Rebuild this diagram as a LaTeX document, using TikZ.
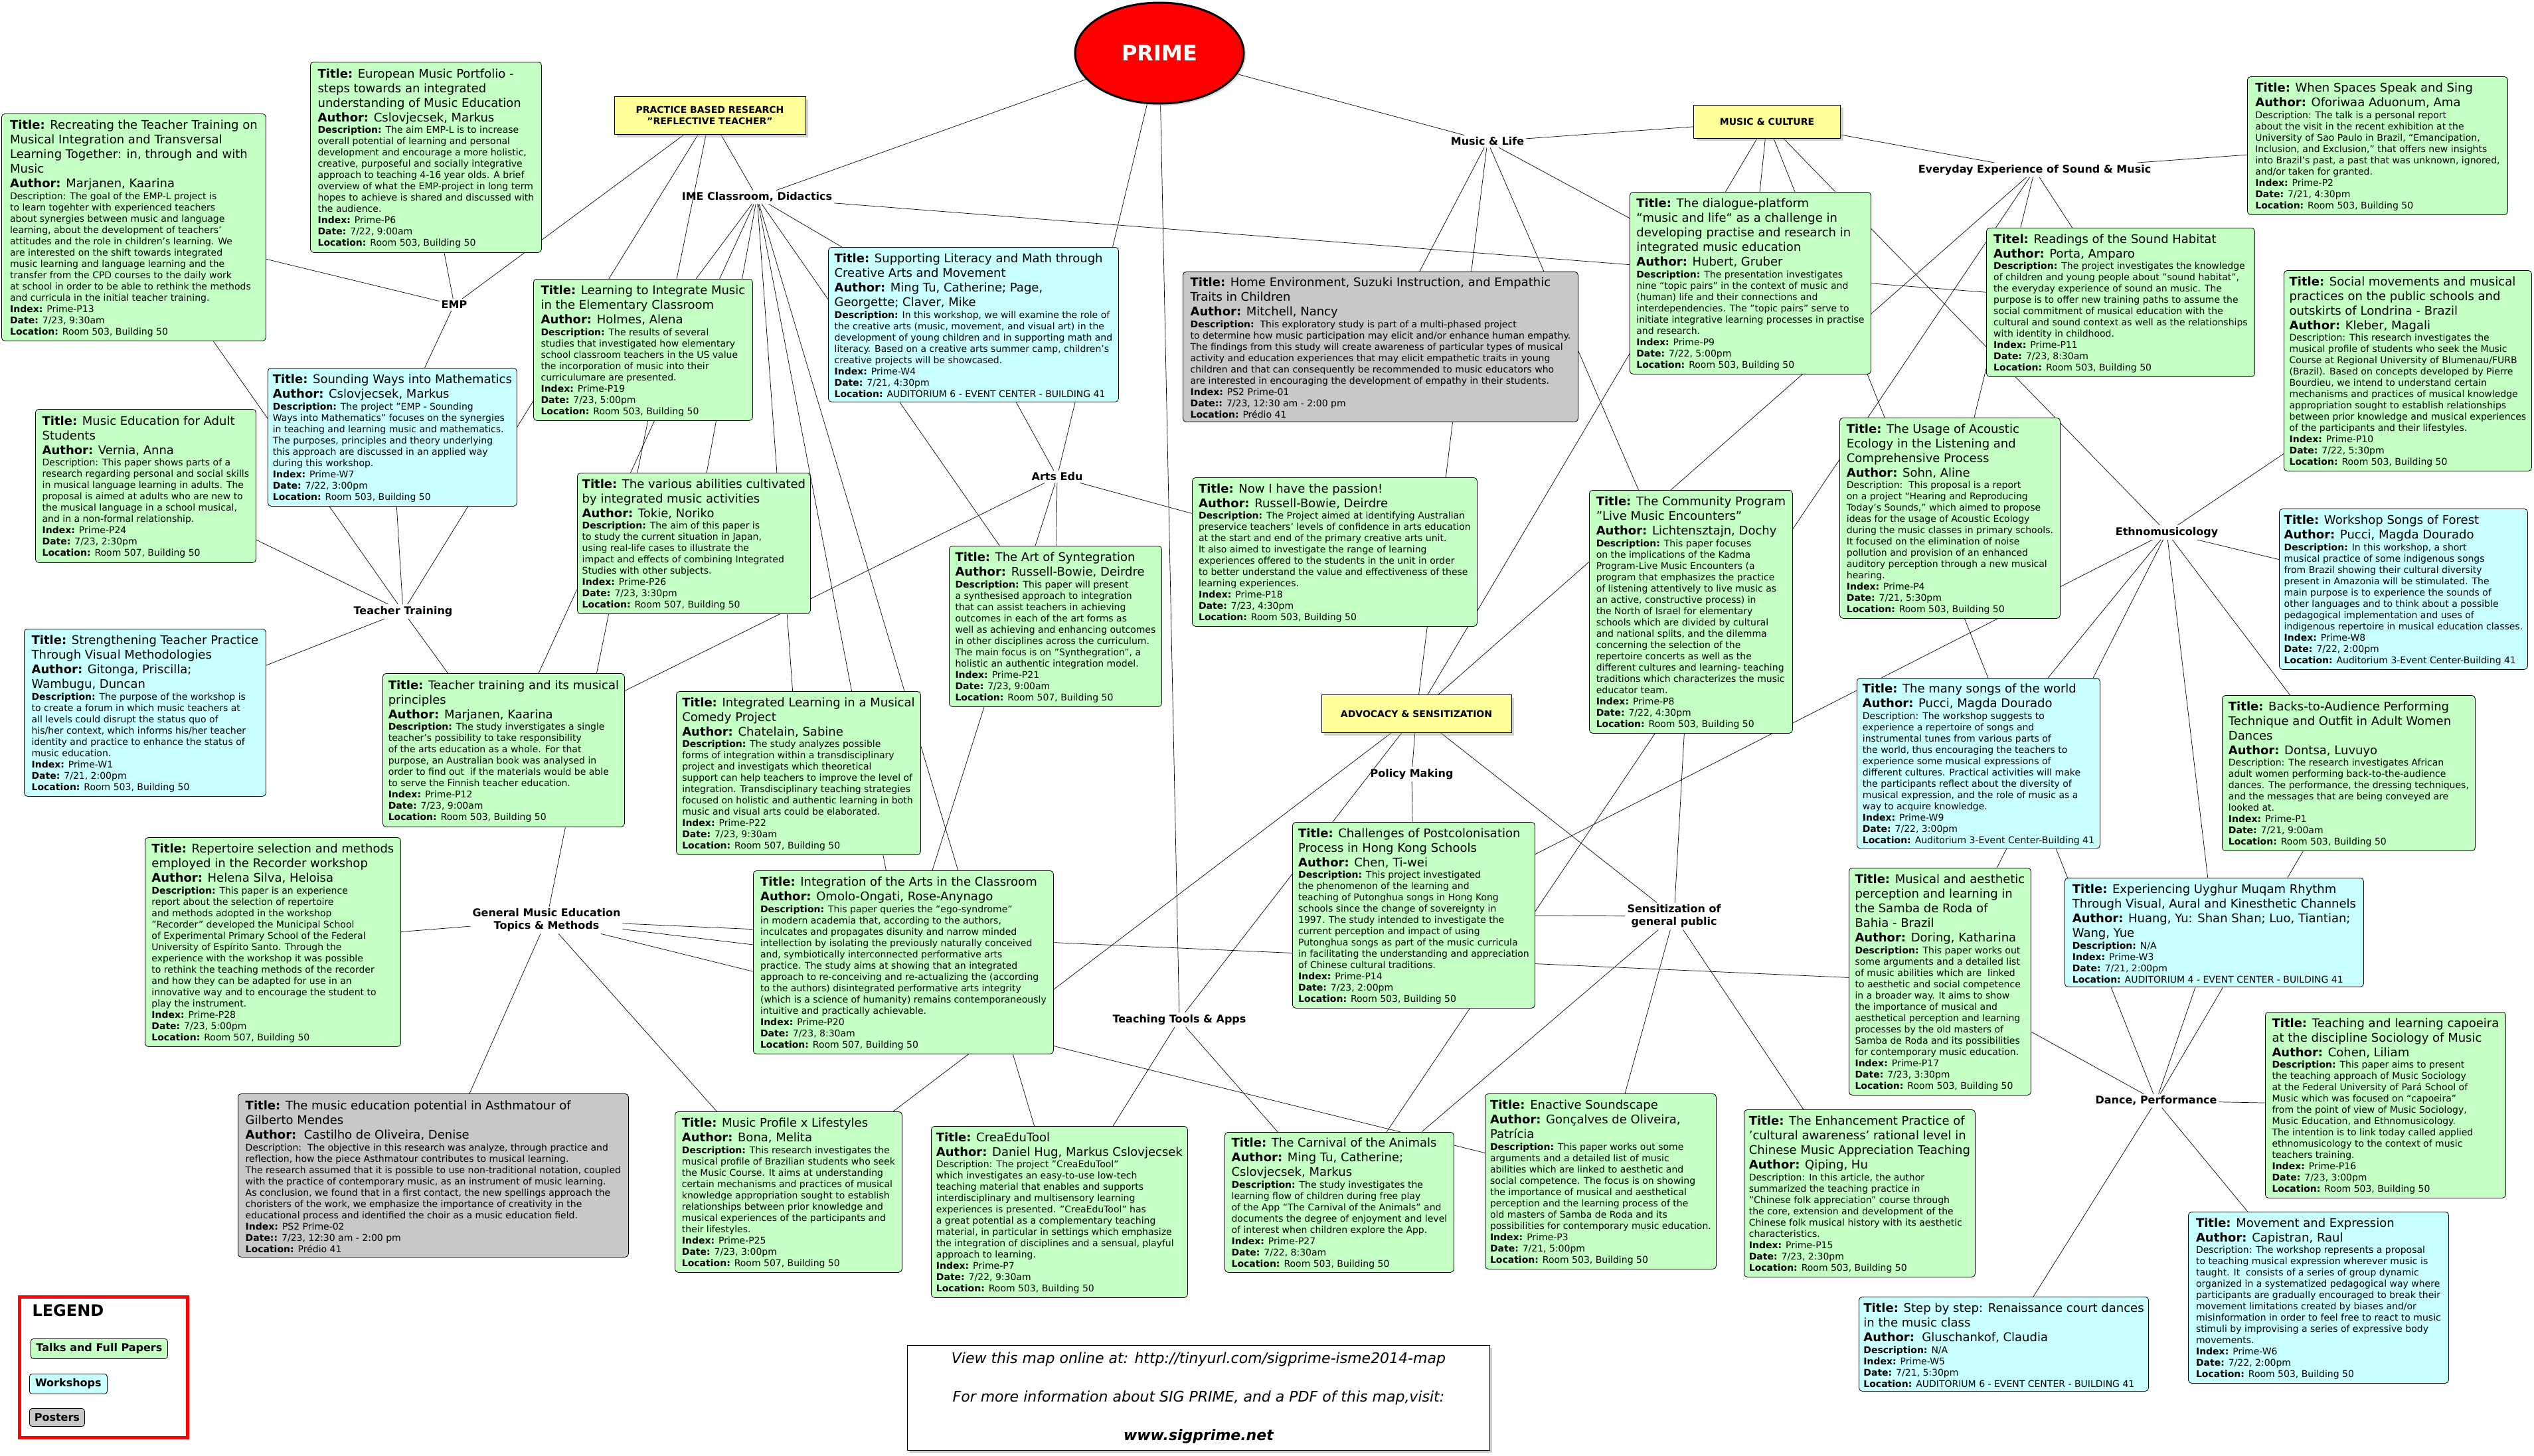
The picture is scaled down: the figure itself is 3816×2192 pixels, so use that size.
\documentclass[tikz,border=0pt]{standalone}
\usepackage{fontspec}
\setmainfont{DejaVu Sans}
\usetikzlibrary{positioning,shapes.geometric,shadows,backgrounds}

\definecolor{talkgreen}{RGB}{196,255,196}
\definecolor{wscyan}{RGB}{200,255,255}
\definecolor{postgray}{RGB}{200,200,200}
\definecolor{catyellow}{RGB}{255,255,153}

\newcommand\bodyfont{\fontsize{14}{17}\selectfont\lineskip=0pt\lineskiplimit=0pt}
\newcommand\topicfont{\fontsize{16}{19}\selectfont\bfseries}
\newcommand\catfont{\fontsize{14}{17}\selectfont\bfseries}
% title and author lines of a box
\newcommand\tline{\fontsize{18}{22}\selectfont\rule[-5pt]{0pt}{22pt}}
\newcommand\aline{\fontsize{18}{22}\selectfont\rule[-7pt]{0pt}{24pt}}

\begin{document}
\begin{tikzpicture}[
  x=1pt, y=-1pt,
  sz/.style 2 args={minimum width=#1pt, minimum height=#2pt},
  paper/.style={draw, line width=0.8pt, rounded corners=5pt, anchor=north west,
    align=left, inner xsep=7pt, inner ysep=5pt, font=\bodyfont},
  talk/.style={paper, fill=talkgreen},
  wshop/.style={paper, fill=wscyan},
  poster/.style={paper, fill=postgray},
  topic/.style={font=\topicfont, align=center, inner sep=3pt},
  cat/.style={draw, line width=0.8pt, fill=catyellow, font=\catfont, align=center,
    drop shadow={shadow xshift=4pt, shadow yshift=-4pt, fill=black!35}},
  key/.style={draw, line width=0.8pt, rounded corners=4pt, anchor=north west,
    font=\topicfont, inner xsep=6pt},
  link/.style={line width=0.7pt},
]
  \useasboundingbox (0,0) rectangle (3816,2192);

  % Root and categories
  \node[ellipse, draw, line width=3pt, fill=red, text=white, sz={254}{152},
    font=\fontsize{32}{38}\selectfont\bfseries,
    drop shadow={shadow xshift=3pt, shadow yshift=-3pt, fill=black!30}] (prime) at (1746,80) {PRIME};
  \node[cat, sz={288}{57}] (prac) at (1069,174) {PRACTICE BASED RESEARCH\\"REFLECTIVE TEACHER"};
  \node[cat, sz={221}{50}] (cult) at (2661,183) {MUSIC \& CULTURE};
  \node[cat, sz={286}{57}] (advo) at (2133,1075) {ADVOCACY \& SENSITIZATION};

  % Topics
  \node[topic] (ime) at (1140,297) {IME Classroom, Didactics};
  \node[topic] (emp) at (684,459) {EMP};
  \node[topic] (tt) at (607,921) {Teacher Training};
  \node[topic] (gme) at (823,1386) {General Music Education\\Topics \& Methods};
  \node[topic] (artsedu) at (1592,718) {Arts Edu};
  \node[topic] (life) at (2240,213) {Music \& Life};
  \node[topic] (everyday) at (3064,256) {Everyday Experience of Sound \& Music};
  \node[topic] (ethno) at (3263,802) {Ethnomusicology};
  \node[topic] (policy) at (2126,1166) {Policy Making};
  \node[topic] (sens) at (2521,1380) {Sensitization of\\general public};
  \node[topic] (tools) at (1776,1536) {Teaching Tools \& Apps};
  \node[topic] (dance) at (3247,1658) {Dance, Performance};

  % Talks, workshops and posters
  \node[talk, sz={398}{342}] (p13) at (2,171) {
    {\tline\textbf{Title:} Recreating the Teacher Training on}\\
    {\tline Musical Integration and Transversal}\\
    {\tline Learning Together: in, through and with}\\
    {\tline Music}\\
    {\aline\textbf{Author:} Marjanen, Kaarina}\\
    Description: The goal of the EMP-L project is\\
    to learn togehter with experienced teachers\\
    about synergies between music and language\\
    learning, about the development of teachers'\\
    attitudes and the role in children's learning. We\\
    are interested on the shift towards integrated\\
    music learning and language learning and the\\
    transfer from the CPD courses to the daily work\\
    at school in order to be able to rethink the methods\\
    and curricula in the initial teacher training.\\
    \textbf{Index:} Prime-P13\\
    \textbf{Date:} 7/23, 9:30am\\
    \textbf{Location:} Room 503, Building 50};

  \node[talk, sz={348}{287}] (p6) at (467,93) {
    {\tline\textbf{Title:} European Music Portfolio -}\\
    {\tline steps towards an integrated}\\
    {\tline understanding of Music Education}\\
    {\aline\textbf{Author:} Cslovjecsek, Markus}\\
    \textbf{Description:} The aim EMP-L is to increase\\
    overall potential of learning and personal\\
    development and encourage a more holistic,\\
    creative, purposeful and socially integrative\\
    approach to teaching 4-16 year olds. A brief\\
    overview of what the EMP-project in long term\\
    hopes to achieve is shared and discussed with\\
    the audience.\\
    \textbf{Index:} Prime-P6\\
    \textbf{Date:} 7/22, 9:00am\\
    \textbf{Location:} Room 503, Building 50};

  \node[wshop, sz={375}{208}] (w7) at (403,554) {
    {\tline\textbf{Title:} Sounding Ways into Mathematics}\\
    {\aline\textbf{Author:} Cslovjecsek, Markus}\\
    \textbf{Description:} The project "EMP - Sounding\\
    Ways into Mathematics" focuses on the synergies\\
    in teaching and learning music and mathematics.\\
    The purposes, principles and theory underlying\\
    this approach are discussed in an applied way\\
    during this workshop.\\
    \textbf{Index:} Prime-W7\\
    \textbf{Date:} 7/22, 3:00pm\\
    \textbf{Location:} Room 503, Building 50};

  \node[talk, sz={330}{213}] (p19) at (803,420) {
    {\tline\textbf{Title:} Learning to Integrate Music}\\
    {\tline in the Elementary Classroom}\\
    {\aline\textbf{Author:} Holmes, Alena}\\
    \textbf{Description:} The results of several\\
    studies that investigated how elementary\\
    school classroom teachers in the US value\\
    the incorporation of music into their\\
    curriculumare are presented.\\
    \textbf{Index:} Prime-P19\\
    \textbf{Date:} 7/23, 5:00pm\\
    \textbf{Location:} Room 503, Building 50};

  \node[talk, sz={332}{231}] (p24) at (53,616) {
    {\tline\textbf{Title:} Music Education for Adult}\\
    {\tline Students}\\
    {\aline\textbf{Author:} Vernia, Anna}\\
    Description: This paper shows parts of a\\
    research regarding personal and social skills\\
    in musical language learning in adults. The\\
    proposal is aimed at adults who are new to\\
    the musical language in a school musical,\\
    and in a non-formal relationship.\\
    \textbf{Index:} Prime-P24\\
    \textbf{Date:} 7/23, 2:30pm\\
    \textbf{Location:} Room 507, Building 50};

  \node[wshop, sz={364}{252}] (w1) at (36,947) {
    {\tline\textbf{Title:} Strengthening Teacher Practice}\\
    {\tline Through Visual Methodologies}\\
    {\tline\textbf{Author:} Gitonga, Priscilla;}\\
    {\aline Wambugu, Duncan}\\
    \textbf{Description:} The purpose of the workshop is\\
    to create a forum in which music teachers at\\
    all levels could disrupt the status quo of\\
    his/her context, which informs his/her teacher\\
    identity and practice to enhance the status of\\
    music education.\\
    \textbf{Index:} Prime-W1\\
    \textbf{Date:} 7/21, 2:00pm\\
    \textbf{Location:} Room 503, Building 50};

  \node[talk, sz={364}{231}] (p12) at (576,1014) {
    {\tline\textbf{Title:} Teacher training and its musical}\\
    {\tline principles}\\
    {\aline\textbf{Author:} Marjanen, Kaarina}\\
    \textbf{Description:} The study inverstigates a single\\
    teacher's possibility to take responsibility\\
    of the arts education as a whole. For that\\
    purpose, an Australian book was analysed in\\
    order to find out\ \ if the materials would be able\\
    to serve the Finnish teacher education.\\
    \textbf{Index:} Prime-P12\\
    \textbf{Date:} 7/23, 9:00am\\
    \textbf{Location:} Room 503, Building 50};

  \node[talk, sz={385}{315}] (p28) at (218,1261) {
    {\tline\textbf{Title:} Repertoire selection and methods}\\
    {\tline employed in the Recorder workshop}\\
    {\aline\textbf{Author:} Helena Silva, Heloisa}\\
    \textbf{Description:} This paper is an experience\\
    report about the selection of repertoire\\
    and methods adopted in the workshop\\
    "Recorder" developed the Municipal School\\
    of Experimental Primary School of the Federal\\
    University of Espírito Santo. Through the\\
    experience with the workshop it was possible\\
    to rethink the teaching methods of the recorder\\
    and how they can be adapted for use in an\\
    innovative way and to encourage the student to\\
    play the instrument.\\
    \textbf{Index:} Prime-P28\\
    \textbf{Date:} 7/23, 5:00pm\\
    \textbf{Location:} Room 507, Building 50};

  \node[poster, sz={588}{246}] (ps02) at (358,1647) {
    {\tline\textbf{Title:} The music education potential in Asthmatour of}\\
    {\tline Gilberto Mendes}\\
    {\aline\textbf{Author:}\ \ Castilho de Oliveira, Denise}\\
    Description:\ \ The objective in this research was analyze, through practice and\\
    reflection, how the piece Asthmatour contributes to musical learning.\\
    The research assumed that it is possible to use non-traditional notation, coupled\\
    with the practice of contemporary music, as an instrument of music learning.\\
    As conclusion, we found that in a first contact, the new spellings approach the\\
    choristers of the work, we emphasize the importance of creativity in the\\
    educational process and identified the choir as a music education field.\\
    \textbf{Index:} PS2 Prime-02\\
    \textbf{Date::} 7/23, 12:30 am - 2:00 pm\\
    \textbf{Location:} Prédio 41};

  \node[talk, sz={351}{212}] (p26) at (869,712) {
    {\tline\textbf{Title:} The various abilities cultivated}\\
    {\tline by integrated music activities}\\
    {\aline\textbf{Author:} Tokie, Noriko}\\
    \textbf{Description:} The aim of this paper is\\
    to study the current situation in Japan,\\
    using real-life cases to illustrate the\\
    impact and effects of combining Integrated\\
    Studies with other subjects.\\
    \textbf{Index:} Prime-P26\\
    \textbf{Date:} 7/23, 3:30pm\\
    \textbf{Location:} Room 507, Building 50};

  \node[wshop, sz={437}{233}] (w4) at (1247,372) {
    {\tline\textbf{Title:} Supporting Literacy and Math through}\\
    {\tline Creative Arts and Movement}\\
    {\tline\textbf{Author:} Ming Tu, Catherine; Page,}\\
    {\aline Georgette; Claver, Mike}\\
    \textbf{Description:} In this workshop, we will examine the role of\\
    the creative arts (music, movement, and visual art) in the\\
    development of young children and in supporting math and\\
    literacy. Based on a creative arts summer camp, children's\\
    creative projects will be showcased.\\
    \textbf{Index:} Prime-W4\\
    \textbf{Date:} 7/21, 4:30pm\\
    \textbf{Location:} AUDITORIUM 6 - EVENT CENTER - BUILDING 41};

  \node[poster, sz={595}{226}] (ps01) at (1781,409) {
    {\tline\textbf{Title:} Home Environment, Suzuki Instruction, and Empathic}\\
    {\tline Traits in Children}\\
    {\aline\textbf{Author:} Mitchell, Nancy}\\
    \textbf{Description:}\ \ This exploratory study is part of a multi-phased project\\
    to determine how music participation may elicit and/or enhance human empathy.\\
    The findings from this study will create awareness of particular types of musical\\
    activity and education experiences that may elicit empathetic traits in young\\
    children and that can consequently be recommended to music educators who\\
    are interested in encouraging the development of empathy in their students.\\
    \textbf{Index:} PS2 Prime-01\\
    \textbf{Date::} 7/23, 12:30 am - 2:00 pm\\
    \textbf{Location:} Prédio 41};

  \node[talk, sz={429}{224}] (p18) at (1795,719) {
    {\tline\textbf{Title:} Now I have the passion!}\\
    {\aline\textbf{Author:} Russell-Bowie, Deirdre}\\
    \textbf{Description:} The Project aimed at identifying Australian\\
    preservice teachers’ levels of confidence in arts education\\
    at the start and end of the primary creative arts unit.\\
    It also aimed to investigate the range of learning\\
    experiences offered to the students in the unit in order\\
    to better understand the value and effectiveness of these\\
    learning experiences.\\
    \textbf{Index:} Prime-P18\\
    \textbf{Date:} 7/23, 4:30pm\\
    \textbf{Location:} Room 503, Building 50};

  \node[talk, sz={320}{242}] (p21) at (1429,822) {
    {\tline\textbf{Title:} The Art of Syntegration}\\
    {\aline\textbf{Author:} Russell-Bowie, Deirdre}\\
    \textbf{Description:} This paper will present\\
    a synthesised approach to integration\\
    that can assist teachers in achieving\\
    outcomes in each of the art forms as\\
    well as achieving and enhancing outcomes\\
    in other disciplines across the curriculum.\\
    The main focus is on "Synthegration", a\\
    holistic an authentic integration model.\\
    \textbf{Index:} Prime-P21\\
    \textbf{Date:} 7/23, 9:00am\\
    \textbf{Location:} Room 507, Building 50};

  \node[talk, sz={368}{246}] (p22) at (1018,1041) {
    {\tline\textbf{Title:} Integrated Learning in a Musical}\\
    {\tline Comedy Project}\\
    {\aline\textbf{Author:} Chatelain, Sabine}\\
    \textbf{Description:} The study analyzes possible\\
    forms of integration within a transdisciplinary\\
    project and investigats which theoretical\\
    support can help teachers to improve the level of\\
    integration. Transdisciplinary teaching strategies\\
    focused on holistic and authentic learning in both\\
    music and visual arts could be elaborated.\\
    \textbf{Index:} Prime-P22\\
    \textbf{Date:} 7/23, 9:30am\\
    \textbf{Location:} Room 507, Building 50};

  \node[talk, sz={452}{276}] (p20) at (1134,1311) {
    {\tline\textbf{Title:} Integration of the Arts in the Classroom}\\
    {\aline\textbf{Author:} Omolo-Ongati, Rose-Anynago}\\
    \textbf{Description:} This paper queries the "ego-syndrome"\\
    in modern academia that, according to the authors,\\
    inculcates and propagates disunity and narrow minded\\
    intellection by isolating the previously naturally conceived\\
    and, symbiotically interconnected performative arts\\
    practice. The study aims at showing that an integrated\\
    approach to re-conceiving and re-actualizing the (according\\
    to the authors) disintegrated performative arts integrity\\
    (which is a science of humanity) remains contemporaneously\\
    intuitive and practically achievable.\\
    \textbf{Index:} Prime-P20\\
    \textbf{Date:} 7/23, 8:30am\\
    \textbf{Location:} Room 507, Building 50};

  \node[talk, sz={342}{242}] (p25) at (1016,1674) {
    {\tline\textbf{Title:} Music Profile x Lifestyles}\\
    {\aline\textbf{Author:} Bona, Melita}\\
    \textbf{Description:} This research investigates the\\
    musical profile of Brazilian students who seek\\
    the Music Course. It aims at understanding\\
    certain mechanisms and practices of musical\\
    knowledge appropriation sought to establish\\
    relationships between prior knowledge and\\
    musical experiences of the participants and\\
    their lifestyles.\\
    \textbf{Index:} Prime-P25\\
    \textbf{Date:} 7/23, 3:00pm\\
    \textbf{Location:} Room 507, Building 50};

  \node[talk, sz={386}{258}] (p7) at (1402,1696) {
    {\tline\textbf{Title:} CreaEduTool}\\
    {\aline\textbf{Author:} Daniel Hug, Markus Cslovjecsek}\\
    Description: The project "CreaEduTool"\\
    which investigates an easy-to-use low-tech\\
    teaching material that enables and supports\\
    interdisciplinary and multisensory learning\\
    experiences is presented. "CreaEduTool" has\\
    a great potential as a complementary teaching\\
    material, in particular in settings which emphasize\\
    the integration of disciplines and a sensual, playful\\
    approach to learning.\\
    \textbf{Index:} Prime-P7\\
    \textbf{Date:} 7/22, 9:30am\\
    \textbf{Location:} Room 503, Building 50};

  \node[talk, sz={345}{211}] (p27) at (1844,1705) {
    {\tline\textbf{Title:} The Carnival of the Animals}\\
    {\tline\textbf{Author:} Ming Tu, Catherine;}\\
    {\aline Cslovjecsek, Markus}\\
    \textbf{Description:} The study investigates the\\
    learning flow of children during free play\\
    of the App “The Carnival of the Animals” and\\
    documents the degree of enjoyment and level\\
    of interest when children explore the App.\\
    \textbf{Index:} Prime-P27\\
    \textbf{Date:} 7/22, 8:30am\\
    \textbf{Location:} Room 503, Building 50};

  \node[talk, sz={348}{264}] (p3) at (2236,1647) {
    {\tline\textbf{Title:} Enactive Soundscape}\\
    {\tline\textbf{Author:} Gonçalves de Oliveira,}\\
    {\aline Patrícia}\\
    \textbf{Description:} This paper works out some\\
    arguments and a detailed list of music\\
    abilities which are linked to aesthetic and\\
    social competence. The focus is on showing\\
    the importance of musical and aesthetical\\
    perception and the learning process of the\\
    old masters of Samba de Roda and its\\
    possibilities for contemporary music education.\\
    \textbf{Index:} Prime-P3\\
    \textbf{Date:} 7/21, 5:00pm\\
    \textbf{Location:} Room 503, Building 50};

  \node[talk, sz={348}{252}] (p15) at (2626,1671) {
    {\tline\textbf{Title:} The Enhancement Practice of}\\
    {\tline 'cultural awareness' rational level in}\\
    {\tline Chinese Music Appreciation Teaching}\\
    {\aline\textbf{Author:} Qiping, Hu}\\
    Description: In this article, the author\\
    summarized the teaching practice in\\
    "Chinese folk appreciation" course through\\
    the core, extension and development of the\\
    Chinese folk musical history with its aesthetic\\
    characteristics.\\
    \textbf{Index:} Prime-P15\\
    \textbf{Date:} 7/23, 2:30pm\\
    \textbf{Location:} Room 503, Building 50};

  \node[wshop, sz={435}{142}] (w5) at (2799,1953) {
    {\tline\textbf{Title:} Step by step: Renaissance court dances}\\
    {\tline in the music class}\\
    {\aline\textbf{Author:}\ \ Gluschankof, Claudia}\\
    \textbf{Description:} N/A\\
    \textbf{Index:} Prime-W5\\
    \textbf{Date:} 7/21, 5:30pm\\
    \textbf{Location:} AUDITORIUM 6 - EVENT CENTER - BUILDING 41};

  \node[talk, sz={365}{280}] (p14) at (1946,1238) {
    {\tline\textbf{Title:} Challenges of Postcolonisation}\\
    {\tline Process in Hong Kong Schools}\\
    {\aline\textbf{Author:} Chen, Ti-wei}\\
    \textbf{Description:} This project investigated\\
    the phenomenon of the learning and\\
    teaching of Putonghua songs in Hong Kong\\
    schools since the change of sovereignty in\\
    1997. The study intended to investigate the\\
    current perception and impact of using\\
    Putonghua songs as part of the music curricula\\
    in facilitating the understanding and appreciation\\
    of Chinese cultural traditions.\\
    \textbf{Index:} Prime-P14\\
    \textbf{Date:} 7/23, 2:00pm\\
    \textbf{Location:} Room 503, Building 50};

  \node[talk, sz={306}{366}] (p8) at (2393,738) {
    {\tline\textbf{Title:} The Community Program}\\
    {\tline "Live Music Encounters"}\\
    {\aline\textbf{Author:} Lichtensztajn, Dochy}\\
    \textbf{Description:} This paper focuses\\
    on the implications of the Kadma\\
    Program-Live Music Encounters (a\\
    program that emphasizes the practice\\
    of listening attentively to live music as\\
    an active, constructive process) in\\
    the North of Israel for elementary\\
    schools which are divided by cultural\\
    and national splits, and the dilemma\\
    concerning the selection of the\\
    repertoire concerts as well as the\\
    different cultures and learning- teaching\\
    traditions which characterizes the music\\
    educator team.\\
    \textbf{Index:} Prime-P8\\
    \textbf{Date:} 7/22, 4:30pm\\
    \textbf{Location:} Room 503, Building 50};

  \node[talk, sz={363}{274}] (p9) at (2454,289) {
    {\tline\textbf{Title:} The dialogue-platform}\\
    {\tline “music and life“ as a challenge in}\\
    {\tline developing practise and research in}\\
    {\tline integrated music education}\\
    {\aline\textbf{Author:} Hubert, Gruber}\\
    \textbf{Description:} The presentation investigates\\
    nine “topic pairs” in the context of music and\\
    (human) life and their connections and\\
    interdependencies. The "topic pairs" serve to\\
    initiate integrative learning processes in practise\\
    and research.\\
    \textbf{Index:} Prime-P9\\
    \textbf{Date:} 7/22, 5:00pm\\
    \textbf{Location:} Room 503, Building 50};

  \node[talk, sz={392}{208}] (p2) at (3384,115) {
    {\tline\textbf{Title:} When Spaces Speak and Sing}\\
    {\aline\textbf{Author:} Oforiwaa Aduonum, Ama}\\
    Description: The talk is a personal report\\
    about the visit in the recent exhibition at the\\
    University of Sao Paulo in Brazil, “Emancipation,\\
    Inclusion, and Exclusion,” that offers new insights\\
    into Brazil’s past, a past that was unknown, ignored,\\
    and/or taken for granted.\\
    \textbf{Index:} Prime-P2\\
    \textbf{Date:} 7/21, 4:30pm\\
    \textbf{Location:} Room 503, Building 50};

  \node[talk, sz={404}{224}] (p11) at (2991,343) {
    {\tline\textbf{Titel:} Readings of the Sound Habitat}\\
    {\aline\textbf{Author:} Porta, Amparo}\\
    \textbf{Description:} The project investigates the knowledge\\
    of children and young people about "sound habitat",\\
    the everyday experience of sound an music. The\\
    purpose is to offer new training paths to assume the\\
    social commitment of musical education with the\\
    cultural and sound context as well as the relationships\\
    with identity in childhood.\\
    \textbf{Index:} Prime-P11\\
    \textbf{Date:} 7/23, 8:30am\\
    \textbf{Location:} Room 503, Building 50};

  \node[talk, sz={373}{302}] (p10) at (3439,407) {
    {\tline\textbf{Title:} Social movements and musical}\\
    {\tline practices on the public schools and}\\
    {\tline outskirts of Londrina - Brazil}\\
    {\aline\textbf{Author:} Kleber, Magali}\\
    Description: This research investigates the\\
    musical profile of students who seek the Music\\
    Course at Regional University of Blumenau/FURB\\
    (Brazil). Based on concepts developed by Pierre\\
    Bourdieu, we intend to understand certain\\
    mechanisms and practices of musical knowledge\\
    appropriation sought to establish relationships\\
    between prior knowledge and musical experiences\\
    of the participants and their lifestyles.\\
    \textbf{Index:} Prime-P10\\
    \textbf{Date:} 7/22, 5:30pm\\
    \textbf{Location:} Room 503, Building 50};

  \node[talk, sz={332}{302}] (p4) at (2770,629) {
    {\tline\textbf{Title:} The Usage of Acoustic}\\
    {\tline Ecology in the Listening and}\\
    {\tline Comprehensive Process}\\
    {\aline\textbf{Author:} Sohn, Aline}\\
    Description:\ \ This proposal is a report\\
    on a project “Hearing and Reproducing\\
    Today’s Sounds,” which aimed to propose\\
    ideas for the usage of Acoustic Ecology\\
    during the music classes in primary schools.\\
    It focused on the elimination of noise\\
    pollution and provision of an enhanced\\
    auditory perception through a new musical\\
    hearing.\\
    \textbf{Index:} Prime-P4\\
    \textbf{Date:} 7/21, 5:30pm\\
    \textbf{Location:} Room 503, Building 50};

  \node[wshop, sz={366}{256}] (w9) at (2796,1021) {
    {\tline\textbf{Title:} The many songs of the world}\\
    {\aline\textbf{Author:} Pucci, Magda Dourado}\\
    Description: The workshop suggests to\\
    experience a repertoire of songs and\\
    instrumental tunes from various parts of\\
    the world, thus encouraging the teachers to\\
    experience some musical expressions of\\
    different cultures. Practical activities will make\\
    the participants reflect about the diversity of\\
    musical expression, and the role of music as a\\
    way to acquire knowledge.\\
    \textbf{Index:} Prime-W9\\
    \textbf{Date:} 7/22, 3:00pm\\
    \textbf{Location:} Auditorium 3-Event Center-Building 41};

  \node[talk, sz={274}{342}] (p17) at (2784,1307) {
    {\tline\textbf{Title:} Musical and aesthetic}\\
    {\tline perception and learning in}\\
    {\tline the Samba de Roda of}\\
    {\tline Bahia - Brazil}\\
    {\aline\textbf{Author:} Doring, Katharina}\\
    \textbf{Description:} This paper works out\\
    some arguments and a detailed list\\
    of music abilities which are\ \ linked\\
    to aesthetic and social competence\\
    in a broader way. It aims to show\\
    the importance of musical and\\
    aesthetical perception and learning\\
    processes by the old masters of\\
    Samba de Roda and its possibilities\\
    for contemporary music education.\\
    \textbf{Index:} Prime-P17\\
    \textbf{Date:} 7/23, 3:30pm\\
    \textbf{Location:} Room 503, Building 50};

  \node[wshop, sz={374}{242}] (w8) at (3432,766) {
    {\tline\textbf{Title:} Workshop Songs of Forest}\\
    {\aline\textbf{Author:} Pucci, Magda Dourado}\\
    \textbf{Description:} In this workshop, a short\\
    musical practice of some indigenous songs\\
    from Brazil showing their cultural diversity\\
    present in Amazonia will be stimulated. The\\
    main purpose is to experience the sounds of\\
    other languages and to think about a possible\\
    pedagogical implementation and uses of\\
    indigenous repertoire in musical education classes.\\
    \textbf{Index:} Prime-W8\\
    \textbf{Date:} 7/22, 2:00pm\\
    \textbf{Location:} Auditorium 3-Event Center-Building 41};

  \node[talk, sz={381}{234}] (p1) at (3346,1047) {
    {\tline\textbf{Title:} Backs-to-Audience Performing}\\
    {\tline Technique and Outfit in Adult Women}\\
    {\tline Dances}\\
    {\aline\textbf{Author:} Dontsa, Luvuyo}\\
    Description: The research investigates African\\
    adult women performing back-to-the-audience\\
    dances. The performance, the dressing techniques,\\
    and the messages that are being conveyed are\\
    looked at.\\
    \textbf{Index:} Prime-P1\\
    \textbf{Date:} 7/21, 9:00am\\
    \textbf{Location:} Room 503, Building 50};

  \node[wshop, sz={450}{164}] (w3) at (3109,1322) {
    {\tline\textbf{Title:} Experiencing Uyghur Muqam Rhythm}\\
    {\tline Through Visual, Aural and Kinesthetic Channels}\\
    {\tline\textbf{Author:} Huang, Yu: Shan Shan; Luo, Tiantian;}\\
    {\aline Wang, Yue}\\
    \textbf{Description:} N/A\\
    \textbf{Index:} Prime-W3\\
    \textbf{Date:} 7/21, 2:00pm\\
    \textbf{Location:} AUDITORIUM 4 - EVENT CENTER - BUILDING 41};

  \node[talk, sz={362}{280}] (p16) at (3411,1524) {
    {\tline\textbf{Title:} Teaching and learning capoeira}\\
    {\tline at the discipline Sociology of Music}\\
    {\aline\textbf{Author:} Cohen, Liliam}\\
    \textbf{Description:} This paper aims to present\\
    the teaching approach of Music Sociology\\
    at the Federal University of Pará School of\\
    Music which was focused on “capoeira”\\
    from the point of view of Music Sociology,\\
    Music Education, and Ethnomusicology.\\
    The intention is to link today called applied\\
    ethnomusicology to the context of music\\
    teachers training.\\
    \textbf{Index:} Prime-P16\\
    \textbf{Date:} 7/23, 3:00pm\\
    \textbf{Location:} Room 503, Building 50};

  \node[wshop, sz={392}{258}] (w6) at (3295,1825) {
    {\tline\textbf{Title:} Movement and Expression}\\
    {\aline\textbf{Author:} Capistran, Raul}\\
    Description: The workshop represents a proposal\\
    to teaching musical expression wherever music is\\
    taught. It\ \ consists of a series of group dynamic\\
    organized in a systematized pedagogical way where\\
    participants are gradually encouraged to break their\\
    movement limitations created by biases and/or\\
    misinformation in order to feel free to react to music\\
    stimuli by improvising a series of expressive body\\
    movements.\\
    \textbf{Index:} Prime-W6\\
    \textbf{Date:} 7/22, 2:00pm\\
    \textbf{Location:} Room 503, Building 50};

  % Legend and footer
  \node[draw=red, fill=white, line width=5pt, anchor=north west, sz={253}{212},
    drop shadow={shadow xshift=3pt, shadow yshift=-3pt, fill=black!20}] (legend) at (27,1951) {};
  \node[anchor=west, font=\fontsize{24}{28}\selectfont\bfseries] (legtitle) at (45,1974) {LEGEND};
  \node[key, fill=talkgreen, sz={206}{30}] (keytalk) at (46,2016) {Talks and Full Papers};
  \node[key, fill=wscyan, sz={117}{30}] (keyws) at (44,2069) {Workshops};
  \node[key, fill=postgray, sz={83}{27}] (keyposter) at (44,2121) {Posters};

  \node[draw, fill=white, line width=0.8pt, anchor=north west, sz={877}{158}, align=center,
    font=\fontsize{22}{58}\selectfont\itshape,
    drop shadow={shadow xshift=4pt, shadow yshift=-4pt, fill=black!40}] (footer) at (1366,2026)
    {View this map online at: http://tinyurl.com/sigprime-isme2014-map\\
     For more information about SIG PRIME, and a PDF of this map,visit:\\
     \textbf{www.sigprime.net}};

  % Connectors
  \begin{scope}[on background layer]
    % root
    \draw[link] (prime) -- (ime);
    \draw[link] (prime) -- (life);
    \draw[link] (prime) -- (artsedu);
    \draw[link] (prime) -- (tools);
    % practice based research
    \draw[link] (prac) -- (emp);
    \draw[link] (prac) -- (tt);
    \draw[link] (prac) -- (gme);
    \draw[link] (prac) -- (ime);
    % IME classroom
    \draw[link] (ime) -- (p19);
    \draw[link] (ime) -- (p12);
    \draw[link] (ime) -- (p26);
    \draw[link] (ime) -- (p22);
    \draw[link] (ime) -- (p20);
    \draw[link] (ime) -- (p7);
    \draw[link] (ime) -- (p21);
    \draw[link] (ime) -- (w4);
    \draw[link] (ime) -- (p11);
    % EMP and teacher training
    \draw[link] (emp) -- (p13);
    \draw[link] (emp) -- (p6);
    \draw[link] (emp) -- (w7);
    \draw[link] (tt) -- (p13);
    \draw[link] (tt) -- (w7);
    \draw[link] (tt) -- (p24);
    \draw[link] (tt) -- (w1);
    \draw[link] (tt) -- (p12);
    % general music education
    \draw[link] (gme) -- (p28);
    \draw[link] (gme) -- (ps02);
    \draw[link] (gme) -- (p25);
    \draw[link] (gme) -- (p20);
    \draw[link] (gme) -- (p3);
    \draw[link] (gme) -- (p17);
    % arts edu
    \draw[link] (artsedu) -- (w4);
    \draw[link] (artsedu) -- (p18);
    \draw[link] (artsedu) -- (p12);
    \draw[link] (artsedu) -- (p21);
    \draw[link] (artsedu) -- (p20);
    % music and life, music and culture
    \draw[link] (life) -- (cult);
    \draw[link] (life) -- (ps01);
    \draw[link] (life) -- (advo);
    \draw[link] (life) -- (p8);
    \draw[link] (life) -- (p9);
    \draw[link] (cult) -- (p9);
    \draw[link] (cult) -- (dance);
    \draw[link] (cult) -- (ethno);
    \draw[link] (cult) -- (everyday);
    \draw[link] (cult) -- (advo);
    % everyday experience
    \draw[link] (everyday) -- (p2);
    \draw[link] (everyday) -- (p11);
    \draw[link] (everyday) -- (p4);
    \draw[link] (everyday) -- (p27);
    \draw[link] (everyday) -- (advo);
    % ethnomusicology
    \draw[link] (ethno) -- (p10);
    \draw[link] (ethno) -- (w8);
    \draw[link] (ethno) -- (p1);
    \draw[link] (ethno) -- (w3);
    \draw[link] (ethno) -- (w9);
    \draw[link] (ethno) -- (p17);
    \draw[link] (ethno) -- (p14);
    % dance, performance
    \draw[link] (dance) -- (p16);
    \draw[link] (dance) -- (w6);
    \draw[link] (dance) -- (w5);
    \draw[link] (dance) -- (p17);
    \draw[link] (dance) -- (w3);
    \draw[link] (dance) -- (p1);
    % advocacy and sensitization
    \draw[link] (advo) -- (policy);
    \draw[link] (advo) -- (sens);
    \draw[link] (advo) -- (p25);
    \draw[link] (advo) -- (tools);
    \draw[link] (policy) -- (p14);
    \draw[link] (sens) -- (p14);
    \draw[link] (sens) -- (p8);
    \draw[link] (sens) -- (p27);
    \draw[link] (sens) -- (p3);
    \draw[link] (sens) -- (p15);
    % teaching tools
    \draw[link] (tools) -- (p7);
    \draw[link] (tools) -- (p27);
  \end{scope}
\end{tikzpicture}
\end{document}
